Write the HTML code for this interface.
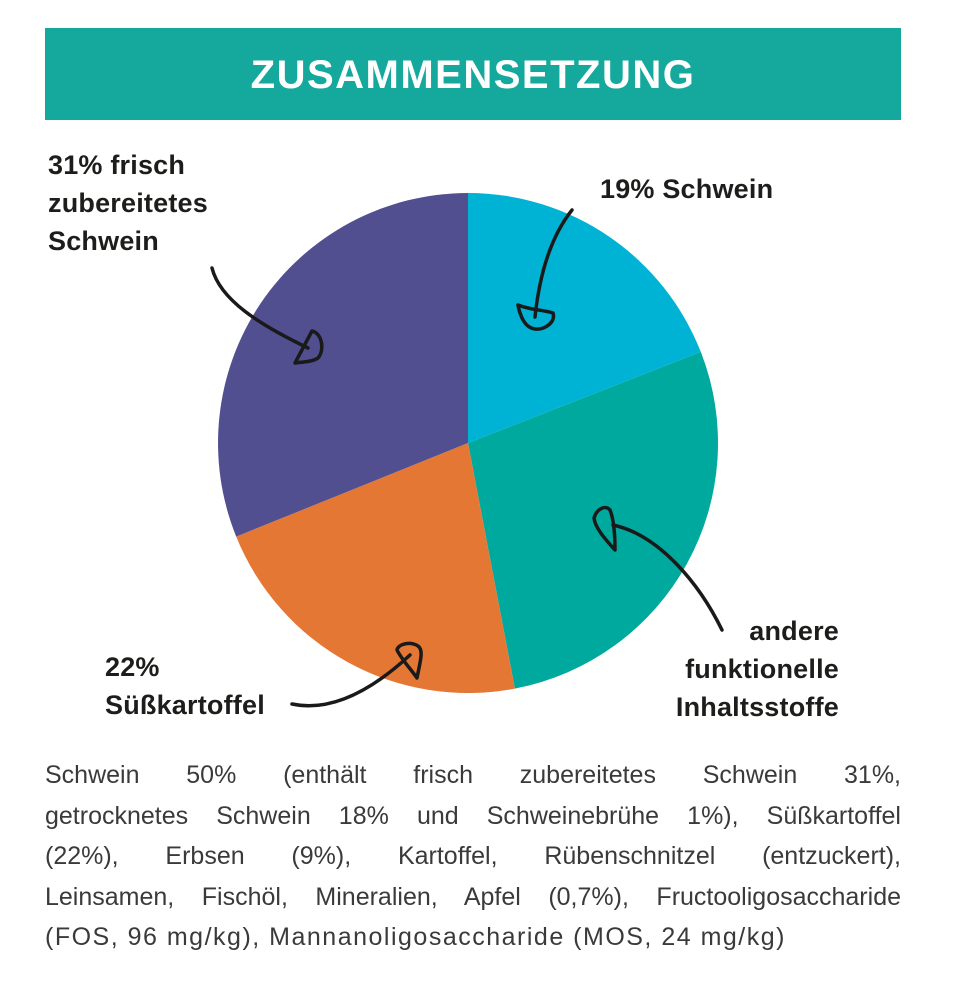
<!DOCTYPE html>
<html><head><meta charset="utf-8"><style>
html,body{margin:0;padding:0;background:#fff;width:954px;height:985px;overflow:hidden;font-family:"Liberation Sans",sans-serif}
.hdr{position:absolute;left:45px;top:28px;width:856px;height:92px;background:#14a99c;color:#fff;font-weight:bold;font-size:40px;text-align:center;line-height:94px;letter-spacing:1.5px}
.lbl{position:absolute;font-weight:bold;font-size:27px;color:#1d1d1b;line-height:38px;letter-spacing:0.2px}
.body{position:absolute;left:45px;top:755px;width:856px;font-size:25px;color:#3a3a3a;line-height:40.5px}
.body div{text-align:justify;text-align-last:justify;white-space:nowrap;overflow:visible}
.body div.last{text-align-last:left;letter-spacing:1.5px}
</style></head><body>
<div class="hdr">ZUSAMMENSETZUNG</div>
<svg width="954" height="985" style="position:absolute;left:0;top:0">
<path d="M468,443 L468,193 A250,250 0 0 1 700.8,351.9 Z" fill="#00b3d5"/>
<path d="M468,443 L700.8,351.9 A250,250 0 0 1 514.9,688.6 Z" fill="#00a99d"/>
<path d="M468,443 L514.9,688.6 A250,250 0 0 1 236.2,536.6 Z" fill="#e57734"/>
<path d="M468,443 L236.2,536.6 A250,250 0 0 1 468,193 Z" fill="#524f91"/>
<g fill="none" stroke="#1a1a1a" stroke-width="3.5" stroke-linecap="round" stroke-linejoin="round">
<path d="M212,268 C220,300 260,325 308,348"/>
<path d="M295,363 L312,331 C322,333 325,350 318,358 C312,362 302,362 295,363 Z"/>
<path d="M572,210 C552,235 540,270 535,317"/>
<path d="M518,305 C530,310 545,310 553,313 C556,322 545,330 535,329 C525,328 520,316 518,305 Z"/>
<path d="M722,630 C700,585 660,535 613,525"/>
<path d="M615,550 C606,540 595,528 594,518 C597,508 606,505 610,510 C614,520 615,535 615,550 Z"/>
<path d="M292,704 C330,712 370,692 410,655"/>
<path d="M417,678 C420,662 424,650 418,646 C410,641 398,644 397,650 C402,660 410,668 417,678 Z"/>
</g>
</svg>
<div class="lbl" style="left:48px;top:146px">31% frisch<br>zubereitetes<br>Schwein</div>
<div class="lbl" style="left:600px;top:170px">19% Schwein</div>
<div class="lbl" style="left:580px;top:612px;width:259px;text-align:right">andere<br>funktionelle<br>Inhaltsstoffe</div>
<div class="lbl" style="left:105px;top:648px">22%<br>Süßkartoffel</div>
<div class="body">
<div>Schwein 50% (enthält frisch zubereitetes Schwein 31%,</div>
<div>getrocknetes Schwein 18% und Schweinebrühe 1%), Süßkartoffel</div>
<div>(22%), Erbsen (9%), Kartoffel, Rübenschnitzel (entzuckert),</div>
<div>Leinsamen, Fischöl, Mineralien, Apfel (0,7%), Fructooligosaccharide</div>
<div class="last">(FOS, 96 mg/kg), Mannanoligosaccharide (MOS, 24 mg/kg)</div>
</div>
</body></html>
